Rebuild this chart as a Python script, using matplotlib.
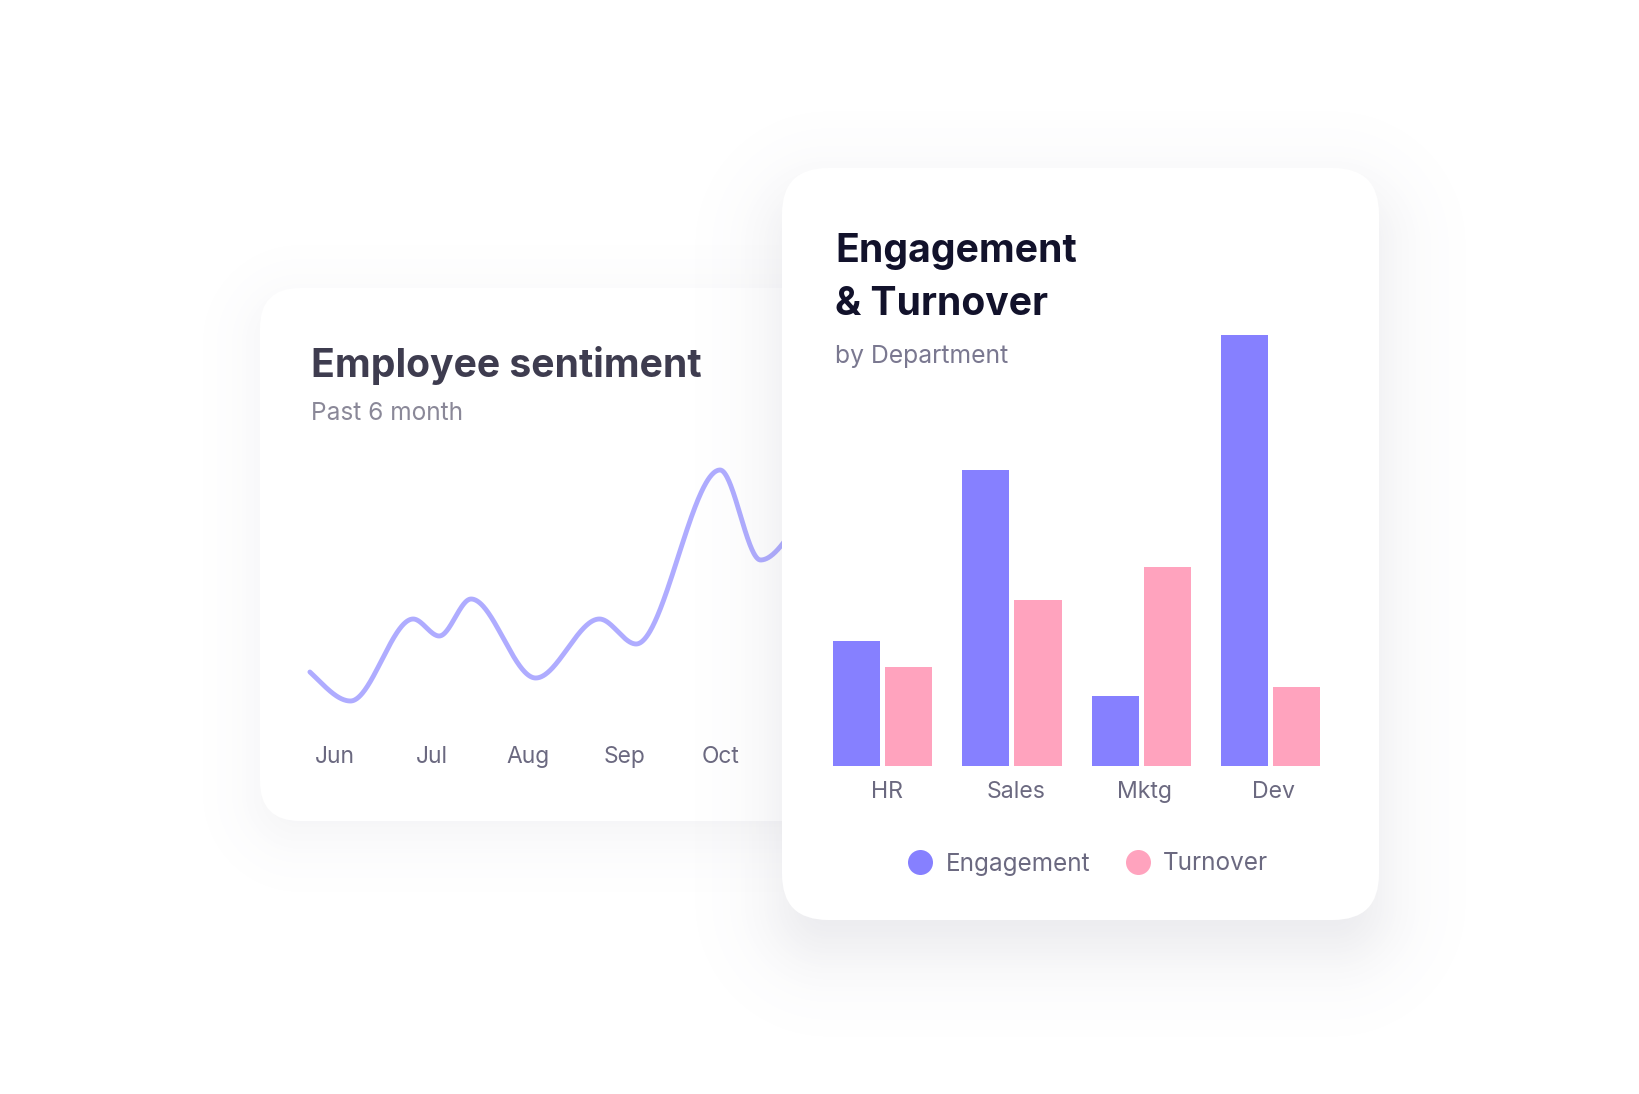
import numpy as np
import matplotlib
matplotlib.use("Agg")
import matplotlib.pyplot as plt
from matplotlib.patches import FancyBboxPatch
from matplotlib.lines import Line2D
from matplotlib.transforms import blended_transform_factory

# ---------------- data ----------------
months = ["Jun", "Jul", "Aug", "Sep", "Oct"]
# sentiment curve knots (time in months from Jun, sentiment score)
sent_t = [-0.26, 0.16, 0.81, 1.08, 1.41, 2.08, 2.74, 3.12, 3.99, 4.41, 4.85]
sent_v = [48, 19, 101, 84, 121, 42, 101, 76, 250, 160, 205]

departments = ["HR", "Sales", "Mktg", "Dev"]
engagement = [29, 68.7, 16.2, 100]
turnover = [23, 38.5, 46.2, 18.3]

ENG_C = "#8680FF"
TURN_C = "#FFA3BE"
LINE_C = "#AFACFF"
FONT = "Inter"

W, H = 1640, 1094
fig = plt.figure(figsize=(W / 100, H / 100), dpi=100)
fig.patch.set_facecolor("white")


def pix_axes(zorder):
    a = fig.add_axes([0, 0, 1, 1], zorder=zorder)
    a.set_xlim(0, W)
    a.set_ylim(H, 0)
    a.axis("off")
    a.set_facecolor("none")
    return a


def shadow_img(x0, y0, x1, y1, r, dy, sigma, amax, spread=0):
    X, Y = np.meshgrid(np.arange(W) + 0.5, np.arange(H) + 0.5)
    x0s, y0s, x1s, y1s = x0 - spread, y0 + dy - spread, x1 + spread, y1 + dy + spread
    cx = np.clip(X, x0s + r, x1s - r)
    cy = np.clip(Y, y0s + r, y1s - r)
    d = np.hypot(X - cx, Y - cy) - r
    a = amax / (1 + np.exp(1.702 * d / sigma))
    img = np.zeros((H, W, 4))
    img[..., 0] = 0.42
    img[..., 1] = 0.42
    img[..., 2] = 0.52
    img[..., 3] = a
    return img


def card(ax, x0, y0, x1, y1, r, z):
    p = FancyBboxPatch((x0, y0), x1 - x0, y1 - y0,
                       boxstyle=f"round,pad=0,rounding_size={r}",
                       facecolor="white", edgecolor="none", zorder=z)
    ax.add_patch(p)


def pchip(x, y, xs):
    x = np.asarray(x, float)
    y = np.asarray(y, float)
    h = np.diff(x)
    delta = np.diff(y) / h
    n = len(x)
    d = np.zeros(n)
    for k in range(1, n - 1):
        if delta[k - 1] * delta[k] > 0:
            w1 = 2 * h[k] + h[k - 1]
            w2 = h[k] + 2 * h[k - 1]
            d[k] = (w1 + w2) / (w1 / delta[k - 1] + w2 / delta[k])
    d[0] = 1.3 * delta[0]
    d[-1] = 1.3 * delta[-1]
    idx = np.clip(np.searchsorted(x, xs) - 1, 0, n - 2)
    t = (xs - x[idx]) / h[idx]
    h00 = 2 * t**3 - 3 * t**2 + 1
    h10 = t**3 - 2 * t**2 + t
    h01 = -2 * t**3 + 3 * t**2
    h11 = t**3 - t**2
    return h00 * y[idx] + h10 * h[idx] * d[idx] + h01 * y[idx + 1] + h11 * h[idx] * d[idx + 1]


# ---------------- background + left card ----------------
bg = pix_axes(0)
C1 = (260, 288, 900, 821, 40)
bg.imshow(shadow_img(*C1[:4], C1[4], dy=14, sigma=32, amax=0.085),
          extent=(0, W, H, 0), zorder=0, interpolation="bilinear")
card(bg, *C1, z=1)
bg.text(311, 377, "Employee sentiment", fontsize=28.2, fontweight="bold",
        family=FONT, color="#3E3C4F", va="baseline", ha="left", zorder=3)
bg.text(311, 420, "Past 6 month", fontsize=17.6, family=FONT,
        color="#8A8898", va="baseline", ha="left", zorder=3)

# ---------------- line chart ----------------
ax1 = fig.add_axes([300 / W, 1 - 790 / H, 500 / W, 360 / H], zorder=1)
ax1.set_facecolor("none")
ax1.axis("off")
px_per_month = 96.5
ax1.set_xlim((300 - 335) / px_per_month, (800 - 335) / px_per_month)
ax1.set_ylim(720 - 790, 720 - 430)
ts = np.linspace(sent_t[0], sent_t[-1], 800)
ax1.plot(ts, pchip(sent_t, sent_v, ts), color=LINE_C, lw=3.5,
         solid_capstyle="round", clip_on=False)
tr1 = blended_transform_factory(ax1.transData, bg.transData)
for i, m in enumerate(months):
    ax1.text(i, 763, m, transform=tr1, fontsize=16.4, family=FONT,
             color="#6B6980", ha="center", va="baseline", clip_on=False)

# ---------------- right card ----------------
fg = pix_axes(2)
C2 = (782, 168, 1379, 920, 46)
fg.imshow(shadow_img(*C2[:4], C2[4], dy=30, sigma=40, amax=0.16),
          extent=(0, W, H, 0), zorder=0, interpolation="bilinear")
card(fg, *C2, z=1)
fg.text(835, 262, "Engagement", fontsize=28.2, fontweight="bold", family=FONT,
        color="#12122B", va="baseline", ha="left", zorder=3)
fg.text(835, 315, "& Turnover", fontsize=28.2, fontweight="bold", family=FONT,
        color="#12122B", va="baseline", ha="left", zorder=3)
fg.text(835, 363, "by Department", fontsize=17.8, family=FONT,
        color="#7A7890", va="baseline", ha="left", zorder=3)

# ---------------- bar chart ----------------
grp = 129.0
base = 766.0
ppu = 4.31
ax2 = fig.add_axes([820 / W, 1 - base / H, 520 / W, (base - 300) / H], zorder=3)
ax2.set_facecolor("none")
ax2.axis("off")
ax2.set_xlim((820 - 883) / grp, (1340 - 883) / grp)
ax2.set_ylim(0, (base - 300) / ppu)
xi = np.arange(len(departments))
bw = 47 / grp
off = 26 / grp
ax2.bar(xi - off, engagement, width=bw, color=ENG_C, linewidth=0)
ax2.bar(xi + off, turnover, width=bw, color=TURN_C, linewidth=0)
tr2 = blended_transform_factory(ax2.transData, fg.transData)
for i, dname in enumerate(departments):
    ax2.text(i + 0.03, 798, dname, transform=tr2, fontsize=16.6, family=FONT,
             color="#6B6980", ha="center", va="baseline", clip_on=False)

handles = [Line2D([], [], ls="", marker="o", markersize=18, color=ENG_C, markeredgewidth=0),
           Line2D([], [], ls="", marker="o", markersize=18, color=TURN_C, markeredgewidth=0)]
leg = fig.legend(handles, ["Engagement", "Turnover"], loc="center",
                 bbox_to_anchor=(1088 / W, 1 - 864 / H), ncol=2, frameon=False,
                 prop={"family": FONT, "size": 17.5}, handletextpad=0.55,
                 columnspacing=1.45, handlelength=1.0)
for t in leg.get_texts():
    t.set_color("#6B6980")
leg.set_zorder(5)

fig.savefig("out.png", dpi=100, facecolor="white")
